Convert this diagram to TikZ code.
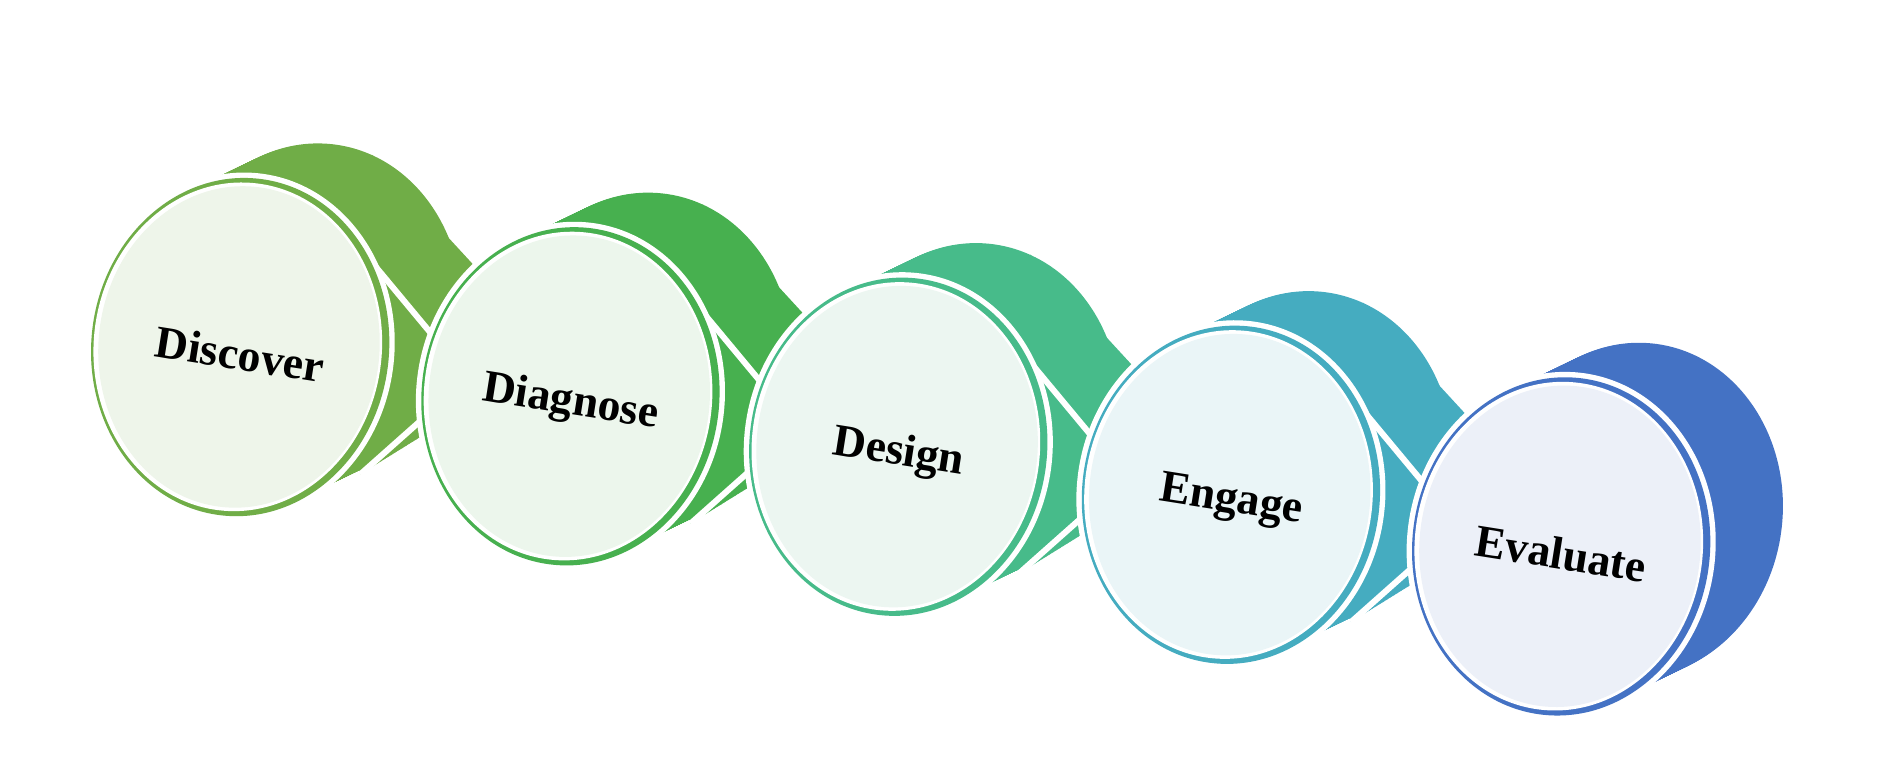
\documentclass[tikz,border=0pt]{standalone}
\usepackage{fontspec}
\setmainfont{Liberation Serif}
\definecolor{cA}{HTML}{70AD47}\definecolor{lA}{HTML}{EEF5EA}
\definecolor{cB}{HTML}{47B04F}\definecolor{lB}{HTML}{ECF6EC}
\definecolor{cC}{HTML}{47BB8A}\definecolor{lC}{HTML}{ECF6F1}
\definecolor{cD}{HTML}{45ACC0}\definecolor{lD}{HTML}{EAF5F7}
\definecolor{cE}{HTML}{4472C4}\definecolor{lE}{HTML}{ECF0F8}
\tikzset{lbl/.style={font=\bfseries\fontsize{38}{38}\selectfont,rotate=-9}}
\newcommand{\mystage}[7]{%
  \coordinate (c#1) at (#2,#3);
  \foreach \t in {0,0.02,...,1.001}{
    \fill[#4,rotate around={-6:(c#1)}] ([shift={(58*\t,-36*\t)}]c#1) ellipse[x radius=123,y radius=140];
    \ifnum#7=1
      \fill[#4] ([shift={(58*\t+52,-36*\t-124)}]c#1) -- ([shift={(58*\t+190,-36*\t+26)}]c#1) -- ([shift={(58*\t+100,-36*\t+106)}]c#1) -- cycle;
    \fi
  }
  \ifnum#7=1
    \draw[white,line width=5pt,line join=miter] ([shift={(72,-116)}]c#1) -- ([shift={(190,26)}]c#1) -- ([shift={(100,106)}]c#1);
  \fi
  \draw[white,line width=5pt,fill=#4,rotate around={-6:(c#1)}] (c#1) ellipse[x radius=126,y radius=143];
  \draw[#4,line width=2pt,rotate around={-6:(c#1)}] (c#1) ellipse[x radius=123,y radius=140];
  \fill[white,rotate around={-6:(c#1)}] ([shift={(-2,0)}]c#1) ellipse[x radius=120,y radius=137];
  \fill[#5,rotate around={-6:(c#1)}] ([shift={(-1,0)}]c#1) ellipse[x radius=117,y radius=134];
  \node[lbl] (t#1) at ([shift={(0,6)}]c#1) {#6};
}
\begin{document}
\begin{tikzpicture}[x=1pt,y=-1pt]
\useasboundingbox (0,0) rectangle (1568,648);
\mystage{1}{200}{289}{cA}{lA}{Discover}{1}
\mystage{2}{475}{330}{cB}{lB}{Diagnose}{1}
\mystage{3}{748}{372}{cC}{lC}{Design}{1}
\mystage{4}{1025}{412}{cD}{lD}{Engage}{1}
\mystage{5}{1300}{455}{cE}{lE}{Evaluate}{0}
\end{tikzpicture}
\end{document}
